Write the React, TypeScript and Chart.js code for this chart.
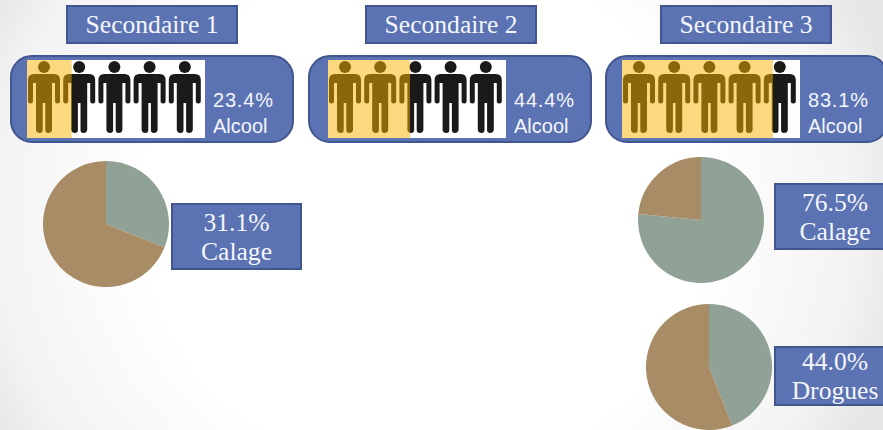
import React, { useEffect, useRef } from "react";
import { Chart, registerables } from "chart.js";

Chart.register(...registerables);

// ---- data ----
const grades = ["Secondaire 1", "Secondaire 2", "Secondaire 3"];
const alcoolValues = [23.4, 44.4, 83.1];
const calageSec1 = 31.1;
const calageSec3 = 76.5;
const droguesSec3 = 44.0;
const alcoolLabel = "Alcool";
const calageLabel = "Calage";
const droguesLabel = "Drogues";

// ---- layout & style ----
const BLUE = "#5b72b3";
const EDGE = "#41558f";
const GREY = "#90a195";
const BROWN = "#a88c65";
const titleX = [66, 365, 660];
const panelX = [10, 308, 604.5];
const peopleX = [27, 328, 622];
const PERSON_COUNT = 5;
const AXIS_MIN = -1.5;
const AXIS_MAX = 98.5;

const serif = "'Liberation Serif', serif";
const sans = "'Liberation Sans', sans-serif";

const Box = ({ x, y, w, h, lines, fs = 25.6, lh = 29 }: any) => (
  <div
    style={{
      position: "absolute",
      left: x,
      top: y,
      width: w,
      height: h,
      boxSizing: "border-box",
      background: BLUE,
      border: `2.5px solid ${EDGE}`,
      color: "#f4f6fb",
      fontFamily: serif,
      fontSize: fs,
      display: "flex",
      flexDirection: "column",
      justifyContent: "center",
      alignItems: "center",
      lineHeight: `${lh}px`,
      whiteSpace: "nowrap",
    }}
  >
    {lines.map((l: string) => (
      <div key={l}>{l}</div>
    ))}
  </div>
);

const Pie = ({ x, y, value, size = 126 }: any) => {
  const ref = useRef<HTMLCanvasElement>(null);
  useEffect(() => {
    const chart = new Chart(ref.current!, {
      type: "pie",
      data: {
        labels: ["Oui", "Non"],
        datasets: [{ data: [value, 100 - value], backgroundColor: [GREY, BROWN], borderWidth: 0 }],
      },
      options: {
        responsive: false,
        animation: false,
        layout: { padding: 0 },
        plugins: { legend: { display: false }, tooltip: { enabled: false } },
      },
    });
    return () => chart.destroy();
  }, [value]);
  return <canvas ref={ref} width={size} height={size} style={{ position: "absolute", left: x, top: y, width: size, height: size }} />;
};

const Highlight = ({ value, w, h }: any) => {
  const ref = useRef<HTMLCanvasElement>(null);
  useEffect(() => {
    const chart = new Chart(ref.current!, {
      type: "bar",
      data: {
        labels: ["Alcool"],
        datasets: [
          {
            data: [value],
            base: AXIS_MIN,
            backgroundColor: "rgba(250,180,0,0.5)",
            borderWidth: 0,
            barPercentage: 1,
            categoryPercentage: 1,
          },
        ],
      },
      options: {
        indexAxis: "y",
        responsive: false,
        animation: false,
        layout: { padding: 0 },
        scales: {
          x: { display: false, min: AXIS_MIN, max: AXIS_MAX },
          y: { display: false },
        },
        plugins: { legend: { display: false }, tooltip: { enabled: false } },
      },
    } as any);
    return () => chart.destroy();
  }, [value]);
  return <canvas ref={ref} width={w} height={h} style={{ position: "absolute", left: 0, top: 0, width: w, height: h }} />;
};

const personPath =
  "M-10 14 H10 Q16 14 16 20 V41 Q16 43.5 13.5 43.5 Q11 43.5 11 41 V23 H8 V70 Q7.5 73 4.2 73 Q1.3 73 1.3 70 V43 H-1.3 V70 Q-1.3 73 -4.2 73 Q-7.5 73 -8 70 V23 H-11 V41 Q-11 43.5 -13.5 43.5 Q-16 43.5 -16 41 V20 Q-16 14 -10 14 Z";

const People = ({ x, value }: any) => {
  const W = 178;
  const H = 78;
  return (
    <div style={{ position: "absolute", left: x, top: 60, width: W, height: H, background: "#ffffff" }}>
      <svg width={W} height={H} style={{ position: "absolute", left: 0, top: 0 }}>
        {Array.from({ length: PERSON_COUNT }).map((_, i) => (
          <g key={i} transform={`translate(${17 + i * 35.2},0)`} fill="#1c1a18">
            <circle cx={0} cy={7} r={6} />
            <path d={personPath} />
          </g>
        ))}
      </svg>
      <Highlight value={value} w={W} h={H} />
    </div>
  );
};

export default function App() {
  useEffect(() => {
    document.body.style.margin = "0";
  }, []);
  return (
    <div
      style={{
        position: "relative",
        width: 883,
        height: 430,
        overflow: "hidden",
        background: "radial-gradient(ellipse 485px 443px at 48% 50%, #ffffff 58%, #f3f3f3 89%, #e7e7e7 100%)",
      }}
    >
      {grades.map((g, i) => (
        <React.Fragment key={g}>
          <Box x={titleX[i]} y={5} w={172} h={39} lines={[g]} lh={33} />
          <div
            style={{
              position: "absolute",
              left: panelX[i],
              top: 55,
              width: 284,
              height: 88,
              boxSizing: "border-box",
              background: BLUE,
              border: `2.5px solid ${EDGE}`,
              borderRadius: 22,
            }}
          />
          <People x={peopleX[i]} value={alcoolValues[i]} />
          <div
            style={{
              position: "absolute",
              left: peopleX[i] + 186,
              top: 87,
              color: "#f4f6fb",
              fontFamily: sans,
              fontSize: 20,
              lineHeight: "26px",
              whiteSpace: "nowrap",
            }}
          >
            <div style={{ letterSpacing: 0.8 }}>{alcoolValues[i].toFixed(1)}%</div>
            <div>{alcoolLabel}</div>
          </div>
        </React.Fragment>
      ))}

      <Pie x={43} y={161} value={calageSec1} />
      <Box x={171} y={203} w={131} h={67} lines={[`${calageSec1.toFixed(1)}%`, calageLabel]} />

      <Pie x={638} y={157} value={calageSec3} />
      <Box x={774} y={183} w={122} h={67} lines={[`${calageSec3.toFixed(1)}%`, calageLabel]} />

      <Pie x={645.5} y={304} value={droguesSec3} />
      <Box x={774} y={346} w={122} h={60} lines={[`${droguesSec3.toFixed(1)}%`, droguesLabel]} />
    </div>
  );
}
